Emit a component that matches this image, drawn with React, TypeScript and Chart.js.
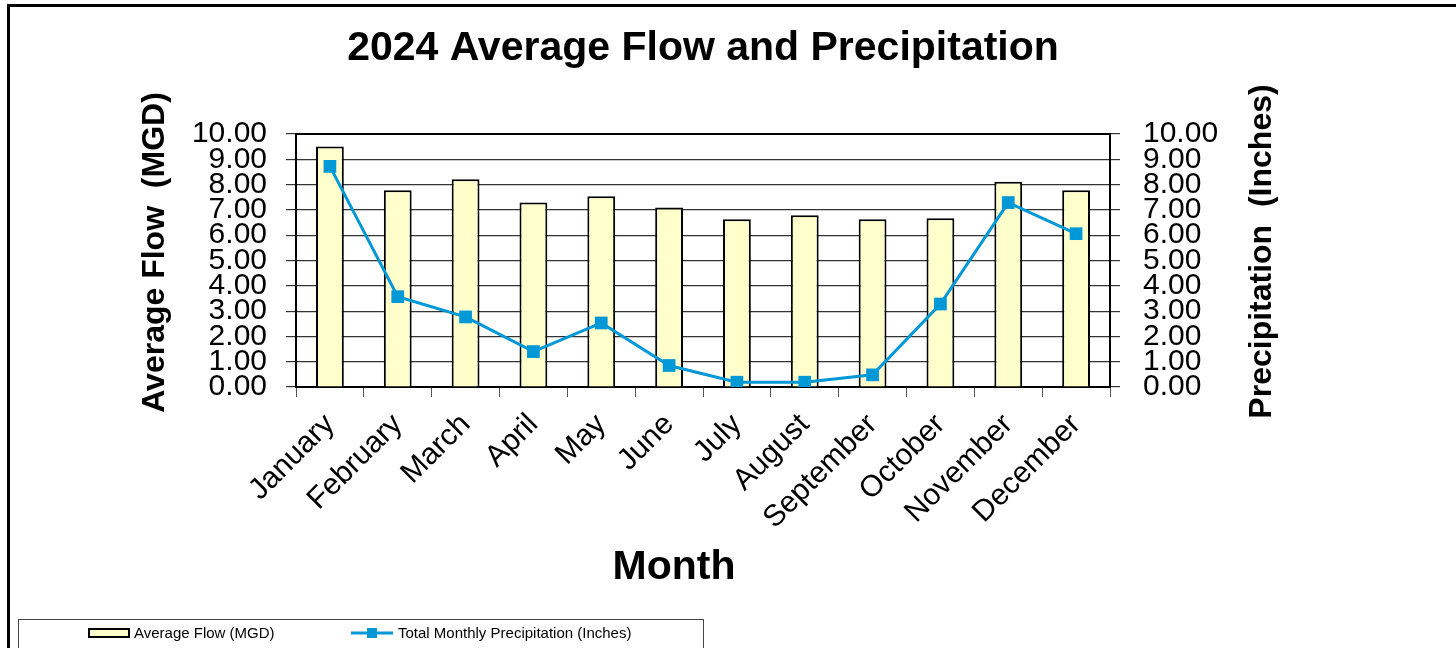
import React, { useEffect, useRef } from "react";
import { Chart, registerables } from "chart.js";

Chart.register(...registerables);

const months = [
  "January", "February", "March", "April", "May", "June",
  "July", "August", "September", "October", "November", "December",
];
const averageFlow = [9.51, 7.78, 8.21, 7.29, 7.54, 7.09, 6.63, 6.79, 6.63, 6.67, 8.11, 7.78];
const precipitation = [8.72, 3.57, 2.77, 1.4, 2.53, 0.85, 0.19, 0.19, 0.48, 3.28, 7.29, 6.06];

const chartTitle = "2024 Average Flow and Precipitation";
const leftAxisTitle = "Average Flow  (MGD)";
const rightAxisTitle = "Precipitation  (Inches)";
const xAxisTitle = "Month";
const flowLabel = "Average Flow (MGD)";
const precipLabel = "Total Monthly Precipitation (Inches)";
const axisMin = 0;
const axisMax = 10;
const axisStep = 1;

const FONT = "'Liberation Sans', Arial, Helvetica, sans-serif";
const BAR_FILL = "#FFFFCC";
const LINE_COLOR = "#0098D6";

const decorPlugin = {
  id: "decor",
  afterDraw(chart: any) {
    const ctx = chart.ctx as CanvasRenderingContext2D;
    const a = chart.chartArea;
    ctx.save();
    // top border of plot area
    ctx.strokeStyle = "#000";
    ctx.lineWidth = 2;
    ctx.beginPath();
    ctx.moveTo(a.left, a.top);
    ctx.lineTo(a.right, a.top);
    ctx.stroke();

    // axis titles
    ctx.fillStyle = "#000";
    ctx.textAlign = "center";
    ctx.textBaseline = "middle";
    ctx.font = `bold 32px ${FONT}`;
    ctx.save();
    ctx.translate(155, 252.5);
    ctx.rotate(-Math.PI / 2);
    ctx.fillText(leftAxisTitle, 0, 0);
    ctx.restore();
    ctx.save();
    ctx.translate(1262, 251.5);
    ctx.rotate(-Math.PI / 2);
    ctx.fillText(rightAxisTitle, 0, 0);
    ctx.restore();
    ctx.font = `bold 41px ${FONT}`;
    ctx.fillText(xAxisTitle, 674, 568);

    // legend
    ctx.lineWidth = 1;
    ctx.strokeStyle = "#444";
    ctx.strokeRect(18.5, 619.5, 685, 40);
    ctx.fillStyle = BAR_FILL;
    ctx.fillRect(89, 629, 40, 8);
    ctx.strokeStyle = "#000";
    ctx.lineWidth = 2;
    ctx.strokeRect(89, 629, 40, 8);
    ctx.fillStyle = "#000";
    ctx.font = `15px ${FONT}`;
    ctx.textAlign = "left";
    ctx.fillText(flowLabel, 134, 634);
    ctx.strokeStyle = LINE_COLOR;
    ctx.lineWidth = 3;
    ctx.beginPath();
    ctx.moveTo(351, 633);
    ctx.lineTo(393, 633);
    ctx.stroke();
    ctx.fillStyle = LINE_COLOR;
    ctx.fillRect(367, 628, 10, 10);
    ctx.fillStyle = "#000";
    ctx.fillText(precipLabel, 398, 634);

    // outer frame
    ctx.strokeStyle = "#000";
    ctx.lineWidth = 3;
    ctx.strokeRect(8.5, 5.5, 1600, 800);
    ctx.restore();
  },
};

export default function App() {
  const ref = useRef<HTMLCanvasElement | null>(null);

  useEffect(() => {
    if (!ref.current) return;
    const tickFont = { family: FONT, size: 30 };
    const chart = new Chart(ref.current, {
      type: "bar",
      data: {
        labels: months,
        datasets: [
          {
            type: "bar",
            label: flowLabel,
            data: averageFlow,
            backgroundColor: BAR_FILL,
            borderColor: "#000",
            borderWidth: 2,
            barPercentage: 0.41,
            categoryPercentage: 1,
            yAxisID: "y",
            order: 2,
          },
          {
            type: "line",
            label: precipLabel,
            data: precipitation,
            borderColor: LINE_COLOR,
            backgroundColor: LINE_COLOR,
            borderWidth: 3,
            pointStyle: "rect",
            pointRadius: 9,
            pointBorderWidth: 0,
            pointBackgroundColor: LINE_COLOR,
            tension: 0,
            yAxisID: "y1",
            order: 1,
          } as any,
        ],
      },
      options: {
        responsive: false,
        animation: false,
        layout: { padding: 0 },
        plugins: {
          legend: { display: false },
          tooltip: { enabled: false },
          title: {
            display: true,
            text: chartTitle,
            fullSize: false,
            color: "#000",
            font: { family: FONT, size: 41, weight: "bold", lineHeight: 1.2 },
            padding: { top: 24, bottom: 60.8 },
          },
        },
        scales: {
          x: {
            type: "category",
            offset: true,
            grid: {
              display: true,
              offset: true,
              drawOnChartArea: false,
              drawTicks: true,
              tickLength: 10,
              color: "#555",
              lineWidth: 1,
            },
            border: { display: true, color: "#000", width: 2 },
            ticks: {
              color: "#000",
              font: tickFont,
              maxRotation: 45,
              minRotation: 45,
              autoSkip: false,
              padding: 10,
            },
            afterFit: (scale: any) => {
              scale.height = 261;
            },
          },
          y: {
            type: "linear",
            position: "left",
            min: axisMin,
            max: axisMax,
            grid: {
              display: true,
              drawOnChartArea: true,
              drawTicks: true,
              tickLength: 10,
              color: "#333",
              lineWidth: 1.2,
            },
            border: { display: true, color: "#000", width: 2 },
            ticks: {
              stepSize: axisStep,
              autoSkip: false,
              color: "#000",
              font: tickFont,
              padding: 19,
              callback: (v: any) => Number(v).toFixed(2),
            },
            afterFit: (scale: any) => {
              scale.width = 296;
            },
          },
          y1: {
            type: "linear",
            position: "right",
            min: axisMin,
            max: axisMax,
            grid: {
              display: true,
              drawOnChartArea: false,
              drawTicks: true,
              tickLength: 10,
              color: "#333",
              lineWidth: 1.2,
            },
            border: { display: true, color: "#000", width: 2 },
            ticks: {
              stepSize: axisStep,
              autoSkip: false,
              color: "#000",
              font: tickFont,
              padding: 23,
              callback: (v: any) => Number(v).toFixed(2),
            },
            afterFit: (scale: any) => {
              scale.width = 346;
            },
          },
        },
      },
      plugins: [decorPlugin],
    });
    return () => chart.destroy();
  }, []);

  return (
    <div style={{ position: "absolute", left: 0, top: 0, width: 1456, height: 648, background: "#fff" }}>
      <canvas ref={ref} width={1456} height={648} style={{ width: 1456, height: 648, display: "block" }} />
    </div>
  );
}
